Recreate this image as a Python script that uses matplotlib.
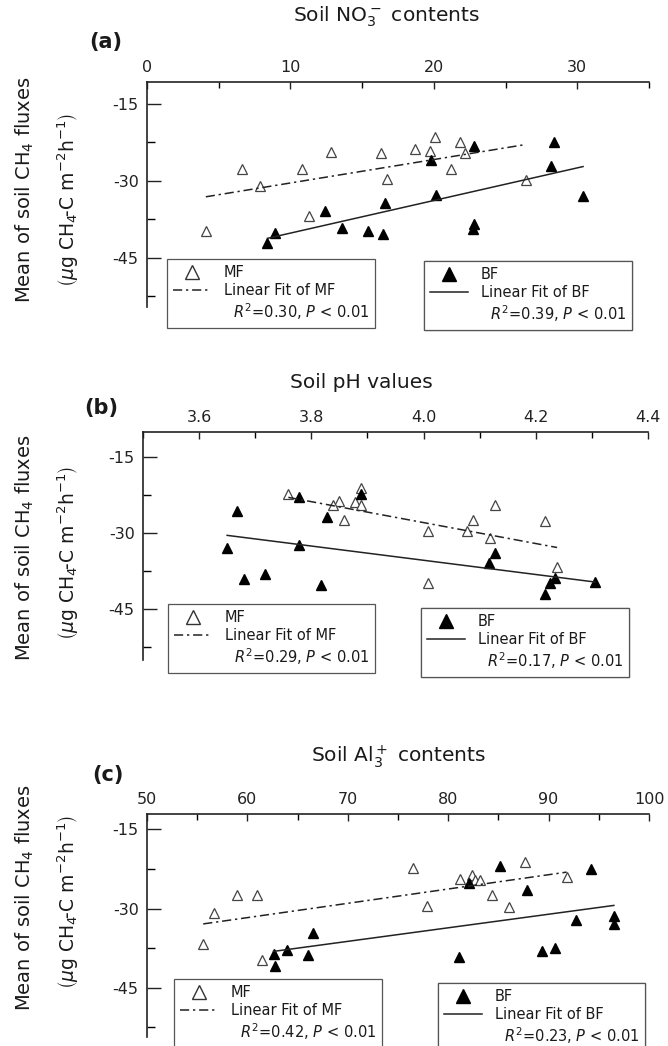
import numpy as np
import matplotlib.pyplot as plt
from matplotlib.lines import Line2D
from matplotlib.ticker import MultipleLocator

plt.rcParams['axes.unicode_minus'] = False

# ---------------- data ----------------
# (a) soil NO3- contents
no3_mf = [4.1, 6.6, 7.9, 10.8, 11.3, 12.8, 16.3, 16.75, 18.7, 19.7, 20.1, 21.2, 21.8, 22.2, 26.4]
ch4_no3_mf = [-39.8, -27.7, -31.0, -27.6, -36.8, -24.4, -24.5, -29.6, -23.7, -24.1, -21.4, -27.6, -22.5, -24.6, -29.9]
no3_bf = [8.4, 8.9, 12.4, 13.6, 15.4, 16.45, 16.6, 19.8, 20.15, 22.7, 22.8, 22.8, 28.2, 28.35, 30.4]
ch4_no3_bf = [-42.2, -40.2, -35.9, -39.2, -39.8, -40.3, -34.3, -25.9, -32.7, -39.4, -38.5, -23.2, -27.0, -22.5, -33.0]
fit_no3_mf_x = [4.1, 26.4]
fit_no3_mf_y = [-33.1, -22.9]
fit_no3_bf_x = [8.4, 30.4]
fit_no3_bf_y = [-41.2, -27.2]

# (b) soil pH values
ph_mf = [3.759, 3.849, 3.839, 3.859, 3.877, 3.888, 3.889, 4.008, 4.008, 4.088, 4.078, 4.118, 4.128, 4.217, 4.238]
ch4_ph_mf = [-22.4, -23.7, -24.5, -27.5, -24.0, -21.25, -24.6, -29.7, -39.9, -27.5, -29.7, -31.1, -24.6, -27.6, -36.7]
ph_bf = [3.65, 3.668, 3.68, 3.718, 3.778, 3.778, 3.817, 3.828, 3.888, 4.116, 4.127, 4.216, 4.226, 4.235, 4.305]
ch4_ph_bf = [-33.0, -25.7, -39.2, -38.2, -22.9, -32.5, -40.2, -26.8, -22.4, -35.9, -33.9, -42.1, -40.0, -39.0, -39.7]
fit_ph_mf_x = [3.759, 4.238]
fit_ph_mf_y = [-23.0, -32.9]
fit_ph_bf_x = [3.65, 4.305]
fit_ph_bf_y = [-30.5, -39.7]

# (c) soil Al3+ contents
al_mf = [56.7, 59.0, 61.0, 76.5, 77.9, 81.2, 82.4, 82.7, 83.2, 84.4, 86.1, 87.6, 91.8, 55.6, 61.5]
ch4_al_mf = [-30.9, -27.5, -27.4, -22.3, -29.5, -24.4, -23.6, -24.6, -24.5, -27.4, -29.7, -21.25, -24.0, -36.7, -39.7]
al_bf = [82.1, 85.2, 87.8, 94.2, 92.7, 96.5, 96.5, 62.6, 62.7, 63.9, 66.0, 66.5, 81.1, 89.3, 90.6]
ch4_al_bf = [-25.25, -22.0, -26.4, -22.6, -32.1, -31.4, -33.0, -38.5, -40.9, -37.8, -38.8, -34.7, -39.1, -38.1, -37.4]
fit_al_mf_x = [55.6, 91.8]
fit_al_mf_y = [-32.9, -23.1]
fit_al_bf_x = [62.6, 96.5]
fit_al_bf_y = [-38.1, -29.4]

stats_mf = ["0.30", "0.29", "0.42"]
stats_bf = ["0.39", "0.17", "0.23"]
titles = ["Soil NO$_3^-$ contents", "Soil pH values", "Soil Al$_3^+$ contents"]
letters = ["(a)", "(b)", "(c)"]

W, H = 668, 1046
fig = plt.figure(figsize=(W / 100, H / 100), dpi=100)

dashdot = (0, (6, 2.5, 1.5, 2.5))
txt = "#1a1a1a"


def px_axes(left, right, top, bottom):
    return fig.add_axes([left / W, 1 - bottom / H, (right - left) / W, (bottom - top) / H])


def panel(ax, xm, ym, xb, yb, fmx, fmy, fbx, fby, xlim, ylim, xmaj, xmin, r2m, r2b, legm, legb):
    ax.plot(xm, ym, linestyle="none", marker="^", markersize=7.5, markerfacecolor="white",
            markeredgecolor="#444444", markeredgewidth=0.9)
    ax.plot(xb, yb, linestyle="none", marker="^", markersize=7.5, color="black")
    ax.plot(fmx, fmy, color="#222222", lw=1.1, linestyle=dashdot)
    ax.plot(fbx, fby, color="#222222", lw=1.1)
    ax.set_xlim(xlim)
    ax.set_ylim(ylim)
    ax.xaxis.tick_top()
    ax.spines["right"].set_visible(False)
    ax.spines["bottom"].set_visible(False)
    for s in ["left", "top"]:
        ax.spines[s].set_linewidth(1.2)
        ax.spines[s].set_color("#222222")
    ax.xaxis.set_major_locator(MultipleLocator(xmaj))
    ax.xaxis.set_minor_locator(MultipleLocator(xmin))
    ax.set_yticks([-15, -30, -45])
    ax.set_yticks([-22.5, -37.5, -52.5], minor=True)
    ax.tick_params(axis="x", which="major", direction="in", length=5, width=1, labelsize=11.5,
                   pad=5, colors="#222222")
    ax.tick_params(axis="x", which="minor", direction="in", length=4, width=1, top=True, bottom=False)
    ax.tick_params(axis="y", which="major", direction="in", length=10, width=1, labelsize=11.5,
                   pad=6, colors="#222222")
    ax.tick_params(axis="y", which="minor", direction="in", length=6, width=1)

    empty = Line2D([], [], linestyle="none")
    for hs, lab, r2, pos in [
        (Line2D([], [], linestyle="none", marker="^", markersize=10.5, markerfacecolor="white",
                markeredgecolor="#333333", markeredgewidth=1.0), "MF", r2m, legm),
        (Line2D([], [], linestyle="none", marker="^", markersize=10.5, color="black"), "BF", r2b, legb),
    ]:
        ln = Line2D([], [], color="#222222", lw=1.1, linestyle=dashdot if lab == "MF" else "-")
        leg = ax.legend([hs, ln, empty],
                        [lab, "Linear Fit of " + lab, "  $R^2$=" + r2 + ", $P$ < 0.01"],
                        loc="upper left", bbox_to_anchor=pos, borderaxespad=0,
                        fontsize=10.5, frameon=True, fancybox=False, framealpha=1,
                        edgecolor="#555555", handlelength=2.6, handletextpad=0.9,
                        labelspacing=0.22, borderpad=0.4)
        leg.get_frame().set_linewidth(0.9)
        for t in leg.get_texts():
            t.set_color(txt)
        ax.add_artist(leg)


ax1 = px_axes(147, 649, 82, 307)
panel(ax1, no3_mf, ch4_no3_mf, no3_bf, ch4_no3_bf, fit_no3_mf_x, fit_no3_mf_y,
      fit_no3_bf_x, fit_no3_bf_y, (0, 35), (-54.6, -10.7), 10, 5, stats_mf[0], stats_bf[0],
      (0.04, 0.213), (0.552, 0.204))

ax2 = px_axes(143, 648, 432, 660)
panel(ax2, ph_mf, ch4_ph_mf, ph_bf, ch4_ph_bf, fit_ph_mf_x, fit_ph_mf_y,
      fit_ph_bf_x, fit_ph_bf_y, (3.5, 4.4), (-55.1, -10.1), 0.2, 0.1, stats_mf[1], stats_bf[1],
      (0.05, 0.246), (0.55, 0.228))
ax2.xaxis.set_major_formatter(plt.FormatStrFormatter("%.1f"))
ax2.set_xticks([3.6, 3.8, 4.0, 4.2, 4.4])

ax3 = px_axes(147, 649, 814, 1037)
panel(ax3, al_mf, ch4_al_mf, al_bf, ch4_al_bf, fit_al_mf_x, fit_al_mf_y,
      fit_al_bf_x, fit_al_bf_y, (50, 100), (-54.3, -12.1), 10, 5, stats_mf[2], stats_bf[2],
      (0.054, 0.26), (0.58, 0.242))

# titles, panel letters, y labels
title_pos = [(386, 17), (361, 382), (399, 757)]
letter_pos = [(106, 42), (101, 408), (108, 775)]
ylab_c = [(190, 200), (548, 553), (898, 902)]
for i in range(3):
    fig.text(title_pos[i][0] / W, 1 - title_pos[i][1] / H, titles[i], ha="center", va="center",
             fontsize=14.5, color=txt)
    fig.text(letter_pos[i][0] / W, 1 - letter_pos[i][1] / H, letters[i], ha="center", va="center",
             fontsize=15, fontweight="bold", color=txt)
    fig.text(25 / W, 1 - ylab_c[i][0] / H, "Mean of soil CH$_4$ fluxes", rotation=90,
             ha="center", va="center", fontsize=14, color=txt)
    fig.text(68 / W, 1 - ylab_c[i][1] / H,
             r"$\left(\mu\mathrm{g\ CH_4\!\text{-}C\ m^{-2}h^{-1}}\right)$", rotation=90,
             ha="center", va="center", fontsize=13.5, color=txt)

fig.savefig("out.png", dpi=100)
